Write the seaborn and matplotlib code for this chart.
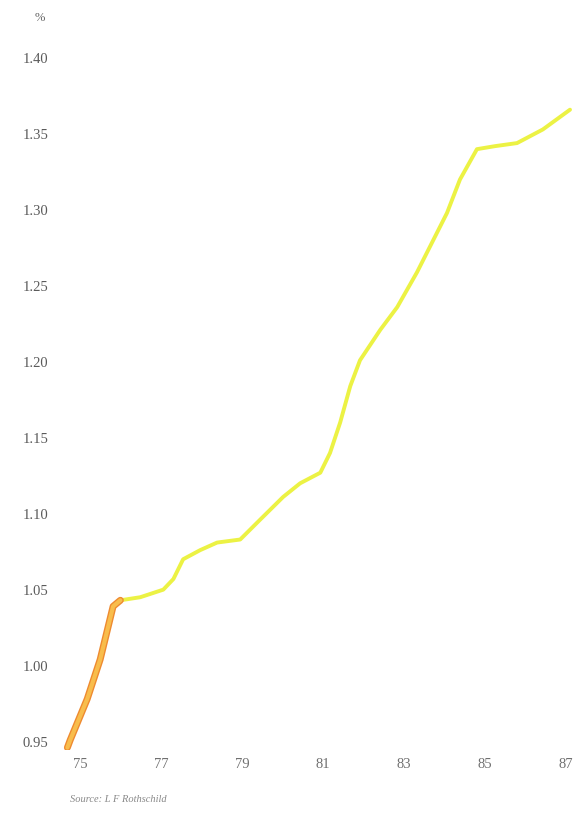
import matplotlib
matplotlib.use("Agg")
import matplotlib.pyplot as plt
import seaborn as sns
import pandas as pd

# values (year, %)
years = [74.68, 74.75, 75.17, 75.49, 75.81, 75.99, 76.48, 77.05, 77.30, 77.54,
         77.96, 78.38, 78.95, 79.44, 80.01, 80.43, 80.93, 81.17, 81.42, 81.67,
         81.91, 82.41, 82.83, 83.32, 84.06, 84.38, 84.80, 85.25, 85.79, 86.43,
         87.10]
values = [0.946, 0.951, 0.978, 1.004, 1.039, 1.043, 1.045, 1.050, 1.057, 1.070,
          1.076, 1.081, 1.083, 1.096, 1.111, 1.120, 1.127, 1.140, 1.160, 1.184,
          1.201, 1.221, 1.236, 1.259, 1.298, 1.320, 1.340, 1.342, 1.344, 1.353,
          1.366]
# the steep early part is printed in orange, the rest in yellow
split_year = 75.99

ytick_vals = [0.95, 1.00, 1.05, 1.10, 1.15, 1.20, 1.25, 1.30, 1.35, 1.40]
xtick_vals = [75, 77, 79, 81, 83, 85, 87]

df = pd.DataFrame({"year": years, "value": values})
early = df[df["year"] <= split_year]
late = df[df["year"] >= split_year]

sns.set_style("white")
plt.rcParams["font.family"] = ["Liberation Serif", "DejaVu Serif"]

fig = plt.figure(figsize=(5.86, 8.13), dpi=100)
ax = fig.add_axes([0.106, 0.078, 0.884, 0.885])

sns.lineplot(data=late, x="year", y="value", color="#ecf244", linewidth=2.8, ax=ax)
sns.lineplot(data=early, x="year", y="value", color="#ee8a30", linewidth=5.0, ax=ax)
sns.lineplot(data=early, x="year", y="value", color="#f8bd4c", linewidth=3.0, ax=ax)

ax.set_xlim(74.55, 87.35)
ax.set_ylim(0.9447, 1.4184)
ax.set_yticks(ytick_vals)
ax.set_yticklabels(["%.2f" % v for v in ytick_vals])
ax.set_xticks(xtick_vals)
ax.set_xticklabels([str(v) for v in xtick_vals])
ax.tick_params(axis="y", length=0, pad=10, labelsize=10.5, labelcolor="#5a5a5a")
ax.tick_params(axis="x", length=0, pad=6, labelsize=10.5, labelcolor="#707070")
ax.set_xlabel("")
ax.set_ylabel("")
for s in ax.spines.values():
    s.set_visible(False)
ax.grid(False)

fig.text(0.068, 0.978, "%", fontsize=9, color="#666666", ha="center", va="center")
fig.text(0.12, 0.016, "Source: L F Rothschild", fontsize=7.5, style="italic",
         color="#888888", ha="left", va="center")

plt.savefig("out.png", dpi=100)
